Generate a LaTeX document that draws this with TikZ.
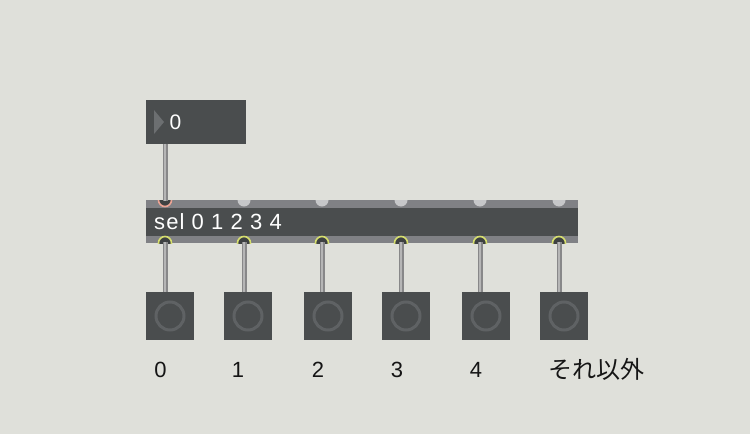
\documentclass[tikz,border=0pt]{standalone}
\usepackage{fontspec}
\setmainfont{Liberation Sans}
\newfontfamily\cjk{Noto Sans CJK JP}
\newfontfamily\objfont[LetterSpace=5]{Liberation Sans}
\usetikzlibrary{positioning}

\definecolor{patchbg}{HTML}{DFE0DA}
\definecolor{boxdark}{HTML}{4A4D4E}
\definecolor{boxstrip}{HTML}{808185}
\definecolor{tridark}{HTML}{6C6F71}
\definecolor{ringgray}{HTML}{5F6264}
\definecolor{inletgray}{HTML}{C6C7C9}
\definecolor{outletdark}{HTML}{3E4142}
\definecolor{hotred}{HTML}{EBA394}
\definecolor{outyellow}{HTML}{D6DE6E}
\definecolor{cordgray}{HTML}{888889}
\definecolor{cordlight}{HTML}{B6B6B6}
\definecolor{labelink}{HTML}{151515}

\begin{document}
\begin{tikzpicture}[x=1pt,y=-1pt,
    numbox/.style={rectangle,fill=boxdark,anchor=north west,minimum width=100pt,minimum height=43.5pt,inner sep=0pt},
    selbox/.style={rectangle,fill=boxstrip,anchor=north west,minimum width=432pt,minimum height=43pt,inner sep=0pt},
    selband/.style={rectangle,fill=boxdark,anchor=north west,minimum width=432pt,minimum height=28pt,inner sep=0pt},
    bang/.style={rectangle,fill=boxdark,minimum size=48pt,inner sep=0pt},
    ring/.style={circle,draw=ringgray,line width=3pt,minimum size=28pt,inner sep=0pt},
    boxtext/.style={text=white,anchor=west,inner sep=0pt,font=\objfont\fontsize{22}{26}\selectfont},
    label/.style={text=labelink,inner sep=0pt,font=\fontsize{22}{26}\selectfont},
    cord/.style={draw=cordgray,line width=5pt,postaction={draw=cordlight,line width=1.8pt}},
    inlet/.style={fill=inletgray},
    hotinlet/.style={fill=outletdark,draw=hotred,line width=1.6pt},
    outlet/.style={fill=outletdark,draw=outyellow,line width=1.6pt}]

\fill[patchbg] (0,0) rectangle (750,434);
\useasboundingbox (0,0) rectangle (750,434);

% number box
\node[numbox]  (num)     at (146,100)   {};
\fill[tridark] (154,110) -- (164,122) -- (154,134) -- cycle;
\node[boxtext,font=\fontsize{21}{24}\selectfont] (numval) at (169.5,122) {0};
\coordinate    (numout)  at (165,143.5);

% sel object
\node[selbox]  (sel)     at (146,200)   {};
\node[selband] (band)    at (146,208)   {};
\node[boxtext] (seltext) at (154,222)   {sel 0 1 2 3 4};

\coordinate (in0) at (165,200);  \coordinate (out0) at (165,243);
\coordinate (in1) at (244,200);  \coordinate (out1) at (244,243);
\coordinate (in2) at (322,200);  \coordinate (out2) at (322,243);
\coordinate (in3) at (401,200);  \coordinate (out3) at (401,243);
\coordinate (in4) at (480,200);  \coordinate (out4) at (480,243);
\coordinate (in5) at (559,200);  \coordinate (out5) at (559,243);

% inlets and outlets
\begin{scope}
\clip (146,200) rectangle (578,243);
\filldraw[hotinlet] (in0) circle[radius=6.5pt];
\fill[inlet] (in1) circle[radius=6.5pt];
\fill[inlet] (in2) circle[radius=6.5pt];
\fill[inlet] (in3) circle[radius=6.5pt];
\fill[inlet] (in4) circle[radius=6.5pt];
\fill[inlet] (in5) circle[radius=6.5pt];
\filldraw[outlet] (out0) circle[radius=6.5pt];
\filldraw[outlet] (out1) circle[radius=6.5pt];
\filldraw[outlet] (out2) circle[radius=6.5pt];
\filldraw[outlet] (out3) circle[radius=6.5pt];
\filldraw[outlet] (out4) circle[radius=6.5pt];
\filldraw[outlet] (out5) circle[radius=6.5pt];
\end{scope}

% buttons
\node[bang] (b0) at (170,316) {};  \node[ring] at (b0) {};
\node[bang] (b1) at (248,316) {};  \node[ring] at (b1) {};
\node[bang] (b2) at (328,316) {};  \node[ring] at (b2) {};
\node[bang] (b3) at (406,316) {};  \node[ring] at (b3) {};
\node[bang] (b4) at (486,316) {};  \node[ring] at (b4) {};
\node[bang] (b5) at (564,316) {};  \node[ring] at (b5) {};

% patch cords
\path[cord] (numout) -- ([yshift=-1pt]in0);
\path[cord] ([yshift=1pt]out0) -- (out0 |- b0.north);
\path[cord] ([yshift=1pt]out1) -- (out1 |- b1.north);
\path[cord] ([yshift=1pt]out2) -- (out2 |- b2.north);
\path[cord] ([yshift=1pt]out3) -- (out3 |- b3.north);
\path[cord] ([yshift=1pt]out4) -- (out4 |- b4.north);
\path[cord] ([yshift=1pt]out5) -- (out5 |- b5.north);

% labels
\node[label] (l0) at (160.5,370) {0};
\node[label] (l1) at (238,370)   {1};
\node[label] (l2) at (318,370)   {2};
\node[label] (l3) at (397,370)   {3};
\node[label] (l4) at (476,370)   {4};
\node[label,font=\cjk\fontsize{24}{28}\selectfont] (l5) at (596,369) {それ以外};
\end{tikzpicture}
\end{document}
